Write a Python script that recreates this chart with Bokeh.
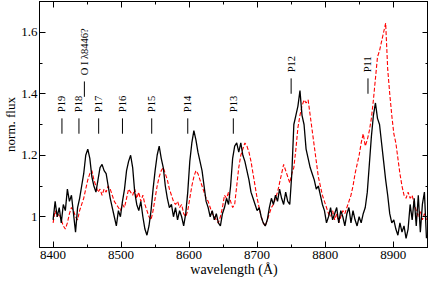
from bokeh.plotting import figure
from bokeh.models import (FixedTicker, LinearAxis, CustomJSTickFormatter, Range1d)
from bokeh.core.properties import value
from bokeh.embed import file_html
from bokeh.resources import INLINE

# ---- data ----
wave_black = [8400, 8403, 8406, 8409, 8412, 8415, 8418, 8421, 8424, 8427, 8430, 8433, 8436, 8439, 8442, 8445, 8448,
              8451, 8454, 8457, 8460, 8463, 8466, 8469, 8472, 8475, 8478, 8481, 8484, 8487, 8490, 8493, 8496, 8499,
              8502, 8505, 8508, 8511, 8514, 8517, 8520, 8523, 8526, 8529, 8532, 8535, 8538, 8541, 8544, 8547, 8550,
              8553, 8556, 8559, 8562, 8565, 8568, 8571, 8574, 8577, 8580, 8583, 8586, 8589, 8592, 8595, 8598, 8601,
              8604, 8607, 8610, 8613, 8616, 8619, 8622, 8625, 8628, 8631, 8634, 8637, 8640, 8643, 8646, 8649, 8652,
              8655, 8658, 8661, 8664, 8667, 8670, 8673, 8676, 8679, 8682, 8685, 8688, 8691, 8694, 8697, 8700, 8703,
              8706, 8709, 8712, 8715, 8718, 8721, 8724, 8727, 8730, 8733, 8736, 8739, 8742, 8745, 8748, 8751, 8754,
              8757, 8760, 8763, 8766, 8769, 8772, 8775, 8778, 8781, 8784, 8787, 8790, 8793, 8796, 8799, 8802, 8805,
              8808, 8811, 8814, 8817, 8820, 8823, 8826, 8829, 8832, 8835, 8838, 8841, 8844, 8847, 8850, 8853, 8856,
              8859, 8862, 8865, 8868, 8871, 8874, 8877, 8880, 8883, 8886, 8889, 8892, 8895, 8898, 8901, 8904, 8907,
              8910, 8913, 8916, 8919, 8922, 8925, 8928, 8931, 8934, 8937, 8940, 8943, 8946, 8949]
flux_black = [0.99, 1.05, 1.00, 1.03, 0.98, 1.04, 1.02, 1.09, 1.05, 1.07, 1.01, 0.95, 1.03, 1.06, 1.10, 1.14, 1.20,
              1.22, 1.19, 1.13, 1.10, 1.08, 1.12, 1.16, 1.17, 1.15, 1.14, 1.10, 1.06, 1.03, 1.00, 0.97, 1.02, 1.00,
              1.05, 1.09, 1.15, 1.18, 1.20, 1.16, 1.08, 1.04, 1.02, 1.05, 1.00, 0.96, 0.94, 0.97, 1.02, 1.09, 1.15,
              1.20, 1.23, 1.19, 1.16, 1.10, 1.06, 1.03, 1.04, 1.00, 1.03, 0.99, 1.02, 1.00, 0.97, 1.01, 1.08, 1.18,
              1.24, 1.28, 1.25, 1.21, 1.18, 1.15, 1.10, 1.05, 1.03, 1.00, 1.02, 0.99, 1.01, 0.98, 0.97, 1.01, 1.03,
              1.06, 1.04, 1.10, 1.19, 1.23, 1.24, 1.21, 1.24, 1.20, 1.18, 1.15, 1.12, 1.08, 1.06, 1.04, 1.02, 1.03,
              1.00, 0.98, 0.97, 0.99, 1.03, 1.06, 1.04, 1.07, 1.05, 1.09, 1.06, 1.04, 1.08, 1.05, 1.04, 1.14, 1.30,
              1.33, 1.36, 1.41, 1.33, 1.30, 1.22, 1.19, 1.16, 1.14, 1.12, 1.09, 1.10, 1.07, 1.04, 1.02, 0.98, 1.00,
              1.03, 0.99, 1.01, 1.03, 0.98, 1.02, 1.00, 0.97, 1.01, 1.03, 0.98, 1.02, 0.99, 0.97, 1.00, 0.98, 1.01,
              1.03, 1.08, 1.17, 1.26, 1.33, 1.37, 1.32, 1.30, 1.24, 1.18, 1.12, 1.07, 1.01, 0.98, 0.99, 0.96, 0.94,
              0.98, 0.95, 0.97, 0.93, 0.96, 1.04, 0.99, 1.06, 0.97, 1.07, 0.95, 1.04, 1.08, 0.93]

wave_red = wave_black
flux_red = [0.98, 1.02, 1.00, 1.01, 0.99, 0.97, 0.96, 0.98, 1.01, 1.03, 1.02, 1.00, 0.99, 1.02, 1.04, 1.06, 1.09,
            1.12, 1.14, 1.15, 1.12, 1.10, 1.08, 1.09, 1.07, 1.09, 1.08, 1.10, 1.09, 1.07, 1.05, 1.04, 1.03, 1.02,
            1.04, 1.03, 1.06, 1.09, 1.08, 1.07, 1.09, 1.06, 1.08, 1.05, 1.07, 1.04, 1.02, 1.00, 0.99, 1.02, 1.06,
            1.10, 1.13, 1.15, 1.16, 1.14, 1.12, 1.09, 1.07, 1.05, 1.04, 1.05, 1.03, 1.04, 1.01, 1.00, 1.02, 1.06,
            1.10, 1.13, 1.15, 1.14, 1.12, 1.10, 1.08, 1.06, 1.05, 1.03, 1.01, 1.00, 0.99, 0.98, 1.00, 1.03, 1.07,
            1.06, 1.08, 1.05, 1.03, 1.04, 1.10, 1.16, 1.20, 1.22, 1.24, 1.23, 1.21, 1.18, 1.14, 1.10, 1.06, 1.03,
            1.00, 0.98, 0.97, 0.99, 1.01, 1.03, 1.04, 1.06, 1.08, 1.11, 1.14, 1.17, 1.15, 1.13, 1.11, 1.14, 1.16,
            1.22, 1.29, 1.33, 1.36, 1.38, 1.37, 1.38, 1.33, 1.28, 1.23, 1.18, 1.13, 1.10, 1.07, 1.05, 1.03, 1.01,
            1.00, 1.02, 0.99, 1.01, 0.98, 1.00, 1.02, 1.01, 1.03, 1.05, 1.07, 1.10, 1.14, 1.17, 1.20, 1.24, 1.27,
            1.23, 1.25, 1.28, 1.32, 1.38, 1.45, 1.52, 1.54, 1.57, 1.60, 1.63, 1.48, 1.40, 1.33, 1.27, 1.24, 1.19,
            1.14, 1.10, 1.07, 1.06, 1.08, 1.06, 1.07, 1.04, 1.02, 1.00, 1.02, 0.99, 1.01, 0.99]

line_names = ["P19", "P18", "O I \u03bb8446?", "P17", "P16", "P15", "P14", "P13", "P12", "P11"]
line_wave = [8413, 8438, 8446, 8467, 8502, 8545, 8598, 8665, 8750, 8863]
mark_low = [1.27, 1.27, 1.39, 1.27, 1.27, 1.27, 1.27, 1.27, 1.40, 1.40]
mark_high = [1.32, 1.32, 1.44, 1.32, 1.32, 1.32, 1.32, 1.32, 1.45, 1.45]
label_y = [1.34, 1.34, 1.46, 1.34, 1.34, 1.34, 1.34, 1.34, 1.47, 1.47]

x_major = [8400, 8500, 8600, 8700, 8800, 8900]
x_minor = [8400, 8450, 8500, 8550, 8600, 8650, 8700, 8750, 8800, 8850, 8900]
y_major = [1.0, 1.2, 1.4, 1.6]
y_minor = [0.9, 1.0, 1.1, 1.2, 1.3, 1.4, 1.5, 1.6, 1.7]

SERIF = "Liberation Serif"

p = figure(width=428, height=279, output_backend="svg", toolbar_location=None,
           x_range=Range1d(8380, 8952), y_range=Range1d(0.9, 1.7),
           x_axis_label="wavelength (\u00c5)", y_axis_label="norm. flux",
           min_border_left=0, min_border_right=0, min_border_top=1, min_border_bottom=0)
p.grid.visible = False
p.outline_line_color = "black"
p.outline_line_width = 1
p.background_fill_color = "white"
p.border_fill_color = "white"

def style_axis(ax, ticks, minor):
    ax.ticker = FixedTicker(ticks=ticks, minor_ticks=minor)
    ax.major_tick_in = 6
    ax.major_tick_out = 0
    ax.minor_tick_in = 3
    ax.minor_tick_out = 0
    ax.axis_line_color = "black"
    ax.major_tick_line_color = "black"
    ax.minor_tick_line_color = "black"
    ax.major_label_text_font = SERIF
    ax.major_label_text_font_size = "13px"
    ax.major_label_text_color = "black"
    ax.axis_label_text_font = SERIF
    ax.axis_label_text_font_size = "14px"
    ax.axis_label_text_font_style = "normal"
    ax.axis_label_text_color = "black"

xa = p.xaxis[0]
style_axis(xa, x_major, x_minor)
xa.major_label_standoff = 3
xa.axis_label_standoff = 0

ya = p.yaxis[0]
style_axis(ya, y_major, y_minor)
ya.formatter = CustomJSTickFormatter(code="return Math.abs(tick - 1) < 1e-9 ? '1' : tick.toFixed(1);")
ya.major_label_standoff = 2
ya.axis_label_standoff = 0
ya.axis_label_text_font_size = "13px"

blank = "return '';"
top = LinearAxis()
style_axis(top, x_major, x_minor)
top.formatter = CustomJSTickFormatter(code=blank)
top.major_label_standoff = 0
top.major_label_text_font_size = "0px"
p.add_layout(top, "above")

right = LinearAxis()
style_axis(right, y_major, y_minor)
right.formatter = CustomJSTickFormatter(code=blank)
right.major_label_standoff = 0
right.major_label_text_font_size = "0px"
p.add_layout(right, "right")

p.line(wave_red, flux_red, line_color="#ff0000", line_width=1.1, line_dash="4 2")
p.line(wave_black, flux_black, line_color="black", line_width=1.3)

p.segment(x0=line_wave, y0=mark_low, x1=line_wave, y1=mark_high, line_color="black", line_width=1)
p.text(x=line_wave, y=label_y, text=line_names, angle=1.5708, text_align="left",
       text_baseline="middle", text_font=value(SERIF), text_font_size="10.5px", text_color="black")

open("out.html", "w").write(file_html(p, INLINE))
